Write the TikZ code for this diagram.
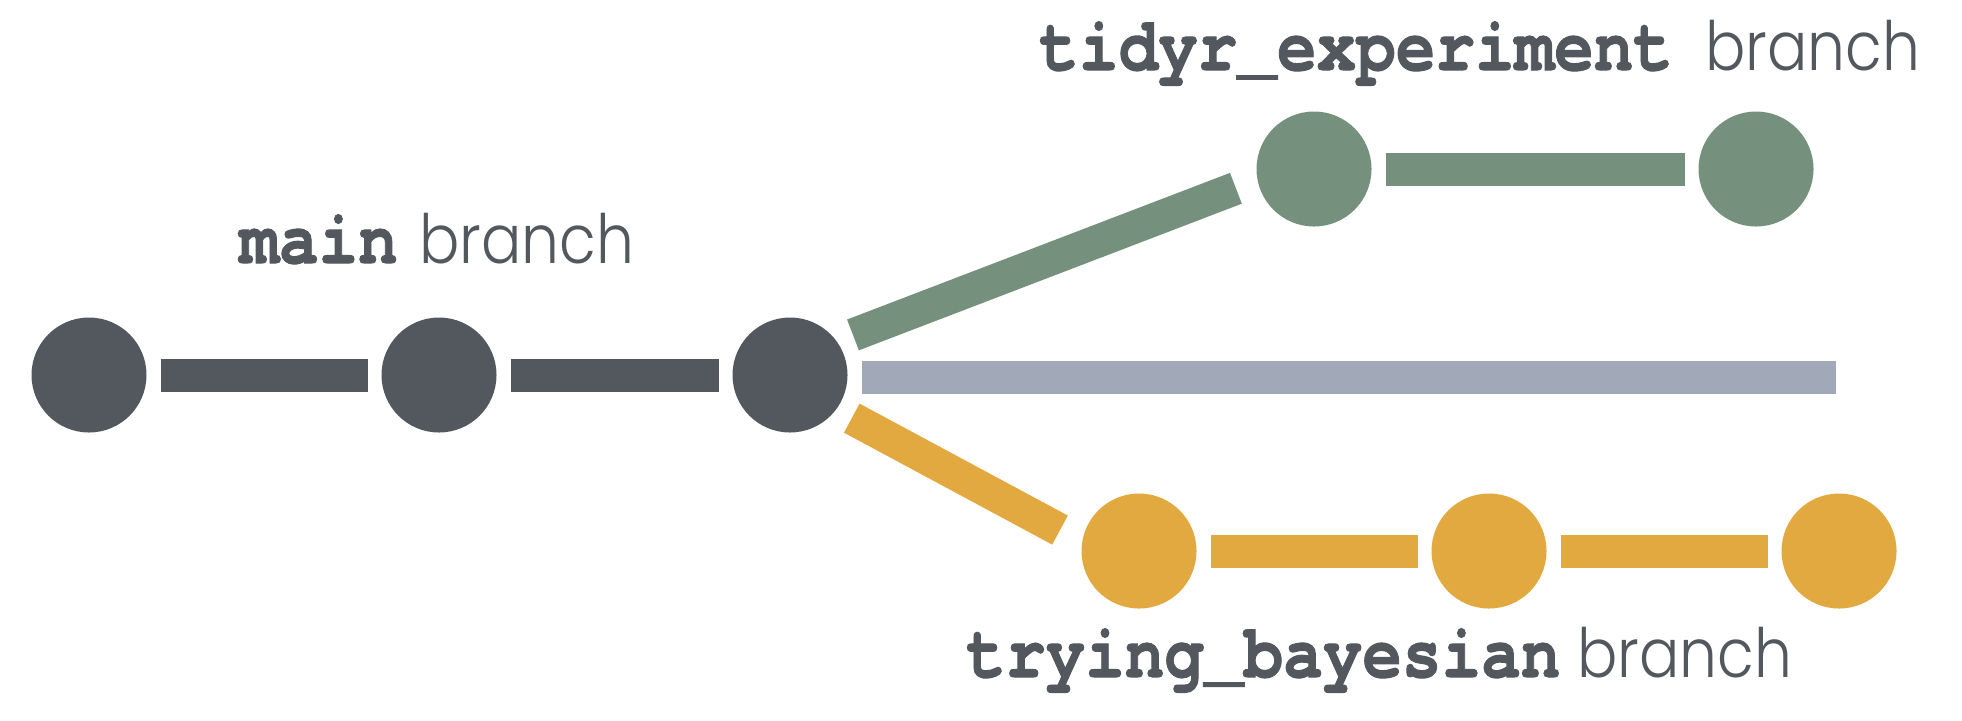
\documentclass[tikz,border=0pt]{standalone}
\usepackage{fontspec}
\newfontfamily\codefont{texgyrecursor-bold}[Extension=.otf,FakeBold=1.3]
\newfontfamily\thinfont{Poppins Light}[FakeStretch=0.88]
\definecolor{darkc}{HTML}{53585F}
\definecolor{greenc}{HTML}{75917E}
\definecolor{orangec}{HTML}{E1A93F}
\definecolor{grayc}{HTML}{A1A8B8}
\newcommand{\codetxt}[1]{\scalebox{1}[1.15]{#1}}
\begin{document}
\begin{tikzpicture}[x=0.5pt,y=-0.5pt,
  commit/.style={circle, minimum size=57.5pt, inner sep=0pt, outer sep=0pt, fill=#1},
  conn/.style={line width=16.5pt, draw=#1, line cap=butt, shorten <=7pt, shorten >=7pt},
  code/.style={anchor=base west, inner sep=0pt, text=darkc, font=\codefont\fontsize{33}{33}\selectfont},
  word/.style={anchor=base west, inner sep=0pt, text=darkc, font=\thinfont\fontsize{34}{34}\selectfont}]
\useasboundingbox (0,0) rectangle (1962,720);
% commits
\node[commit=darkc] (m1) at (89,375) {};
\node[commit=darkc] (m2) at (439,375) {};
\node[commit=darkc] (m3) at (790,375) {};
\node[commit=greenc] (g1) at (1314,169) {};
\node[commit=greenc] (g2) at (1756,169) {};
\node[commit=orangec] (o1) at (1139,551) {};
\node[commit=orangec] (o2) at (1489,551) {};
\node[commit=orangec] (o3) at (1839,551) {};
\coordinate (grayend) at (1836,377);
% connectors
\draw[conn=grayc, shorten >=0pt] (m3.east |- grayend) -- (grayend);
\draw[conn=darkc] (m1) -- (m2);
\draw[conn=darkc] (m2) -- (m3);
\draw[conn=greenc, shorten <=8.8pt, shorten >=11.6pt] (m3.36) -- (g1.191.7);
\draw[conn=greenc] (g1) -- (g2);
\draw[conn=orangec, shorten <=9pt, shorten >=12.6pt] (m3.323.3) -- (o1.171);
\draw[conn=orangec] (o1) -- (o2);
\draw[conn=orangec] (o2) -- (o3);
% labels
\node[code] (mainlbl) at (239,263) {\codetxt{main}};
\node[word] (mainbr) at (419,263) {branch};
\node[code] (tidylbl) at (1039,70) {\codetxt{tidyr\_experiment}};
\node[word] (tidybr) at (1705,70) {branch};
\node[code] (trylbl) at (966,677) {\codetxt{trying\_bayesian}};
\node[word] (trybr) at (1577,677) {branch};
\end{tikzpicture}
\end{document}
